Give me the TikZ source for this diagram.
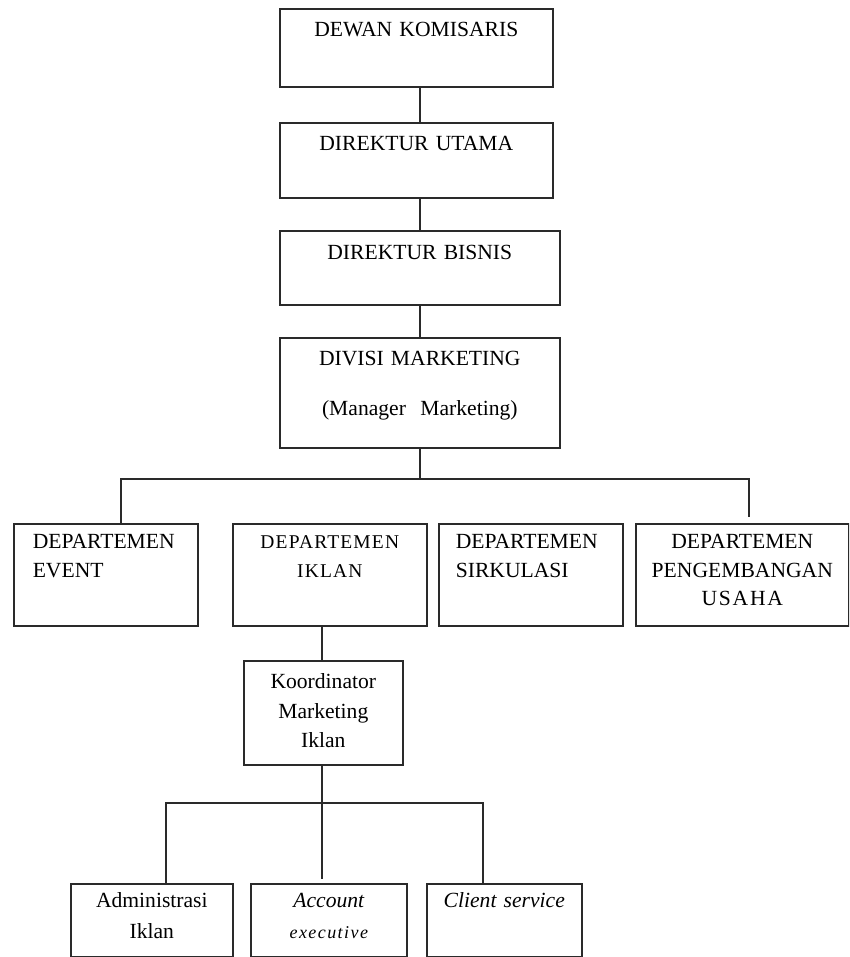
\documentclass[tikz,border=0pt]{standalone}
\usepackage{fontspec}
\setmainfont{Liberation Serif}
\newfontfamily\spacedA[LetterSpace=6]{Liberation Serif}
\newfontfamily\spacedB[LetterSpace=8]{Liberation Serif}
\newfontfamily\spacedC[LetterSpace=8]{Liberation Serif}
\definecolor{lc}{HTML}{2A2A2A}
\begin{document}
\begin{tikzpicture}[x=1pt,y=-1pt,
  box/.style={draw=lc, line width=1.6pt, inner sep=0pt, align=center,
    anchor=north west, font=\fontsize{21.6}{29}\selectfont},
  ln/.style={draw=lc, line width=1.6pt}]
\fill[white] (0,0) rectangle (849,957);
\useasboundingbox (0,0) rectangle (849,957);
\begin{scope}
\clip (0,0) rectangle (849,957);
% top chain
\node[box, text width=273pt, text height=28pt, text depth=50pt] (dk) at (279,8) {DEWAN KOMISARIS};
\node[box, text width=273pt, text height=28pt, text depth=47pt] (du) at (279,122) {DIREKTUR UTAMA};
\node[box, text width=280pt, text height=29pt, text depth=45pt] (db) at (279,230) {DIREKTUR BISNIS};
\node[box, text width=280pt, text height=28pt, text depth=82pt] (dm) at (279,337) {DIVISI MARKETING\\[21pt](Manager\ \ Marketing)};
% departments
\node[box, align=left, inner xsep=19pt, text width=146pt, text height=25pt, text depth=77pt] (ev) at (13,523) {DEPARTEMEN\\EVENT};
\node[box, text width=194pt, text height=25pt, text depth=77pt, font=\spacedA\fontsize{19.5}{29}\selectfont] (di) at (232,523) {DEPARTEMEN\\IKLAN};
\node[box, align=left, inner xsep=17pt, text width=150pt, text height=25pt, text depth=77pt] (ds) at (438,523) {DEPARTEMEN\\SIRKULASI};
\node[box, text width=213pt, text height=25pt, text depth=77pt, font=\fontsize{21.6}{28.5}\selectfont] (dp) at (635,523) {DEPARTEMEN\\PENGEMBANGAN\\{\spacedB USAHA}};
% koordinator
\node[box, text width=159pt, text height=28pt, text depth=76pt, font=\fontsize{21.6}{29.5}\selectfont] (ko) at (243,660) {Koordinator\\Marketing\\Iklan};
% bottom
\node[box, text width=162pt, text height=24pt, text depth=49pt, font=\fontsize{21.6}{31}\selectfont] (ad) at (70,883) {Administrasi\\Iklan};
\node[box, text width=156pt, text height=24pt, text depth=49pt, font=\fontsize{21.6}{31}\selectfont] (ae) at (250,883) {\itshape Account\\{\spacedC\itshape\fontsize{18}{31}\selectfont executive}};
\node[box, text width=155pt, text height=24pt, text depth=49pt, font=\itshape\fontsize{21.6}{31}\selectfont] (cs) at (426,883) {Client service};
% connectors
\coordinate (spine) at (420,0);
\draw[ln] (dk.south -| spine) -- (du.north -| spine);
\draw[ln] (du.south -| spine) -- (db.north -| spine);
\draw[ln] (db.south -| spine) -- (dm.north -| spine);
\coordinate (bar) at (121,479);
\coordinate (pgend) at (749,517);
\draw[ln] (dm.south -| spine) -- (bar -| spine);
\draw[ln] (ev.north -| bar) -- (bar) -- (bar -| pgend) -- (pgend);
\coordinate (kx) at (322,0);
\draw[ln] (di.south -| kx) -- (ko.north -| kx);
\coordinate (aeend) at (322,879);
\draw[ln] (ko.south -| kx) -- (aeend);
\coordinate (bar2) at (166,803);
\coordinate (bar2r) at (483,803);
\draw[ln] (ad.north -| bar2) -- (bar2) -- (bar2r) -- (cs.north -| bar2r);
\end{scope}
\end{tikzpicture}
\end{document}
